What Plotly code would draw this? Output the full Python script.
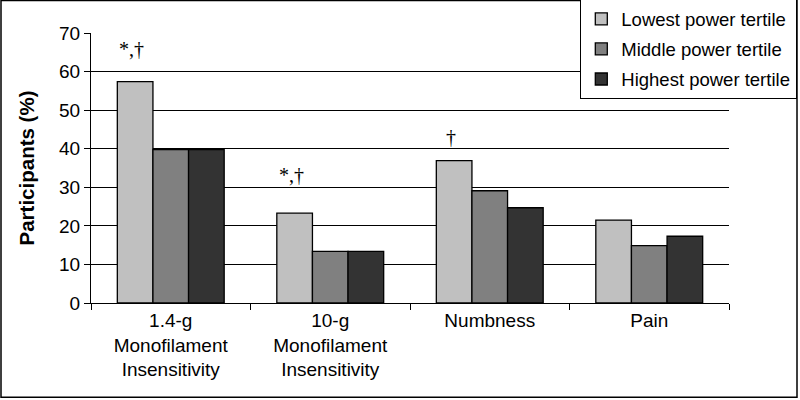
import plotly.graph_objects as go

categories = ["1.4-g<br>Monofilament<br>Insensitivity", "10-g<br>Monofilament<br>Insensitivity", "Numbness", "Pain"]
lowest = [57.4, 23.3, 36.9, 21.5]
middle = [39.8, 13.4, 29.1, 14.9]
highest = [39.8, 13.4, 24.7, 17.3]
series_names = ["Lowest power tertile", "Middle power tertile", "Highest power tertile"]
colors = ["#c0c0c0", "#808080", "#333333"]
marks = ["*,\u2020", "*,\u2020", "\u2020", ""]
mark_lift = [20, 25, 11, 0]

fig = go.Figure()
for i, (name, vals) in enumerate(zip(series_names, [lowest, middle, highest])):
    fig.add_trace(go.Bar(x=categories, y=vals, name=name, legendgroup=name,
                         marker=dict(color=colors[i], line=dict(color="black", width=1.3))))

# significance marks above the lowest-tertile bars
for c, v, m, lift in zip(categories, lowest, marks, mark_lift):
    if m:
        fig.add_annotation(x=c, y=v, text=m, showarrow=False, xshift=-39, yshift=lift,
                           yanchor="bottom", xanchor="center",
                           font=dict(family="Liberation Serif", size=20, color="black"))

L, T, W, H = 91, 33, 638, 270.5
fig.update_layout(
    width=800, height=400,
    margin=dict(l=L, r=800 - L - W, t=T, b=400 - T - H, autoexpand=False),
    paper_bgcolor="white", plot_bgcolor="white",
    barmode="group", bargap=0.33, bargroupgap=0,
    font=dict(family="Liberation Sans, Arial", size=18, color="black"),
    showlegend=True,
    legend=dict(x=(797 - L) / W, y=(T + H + 1) / H, xanchor="right", yanchor="top",
                bgcolor="white", bordercolor="black", borderwidth=1.3,
                font=dict(size=18.5), tracegroupgap=3, traceorder="grouped"),
)
fig.update_xaxes(showline=True, linecolor="black", linewidth=1.3, ticks="outside",
                 tickson="boundaries", ticklen=6, tickcolor="black", tickwidth=1.3,
                 tickfont=dict(size=19), showgrid=False)
fig.update_yaxes(range=[0, 70], dtick=10, showline=True, linecolor="black", linewidth=1.3,
                 ticks="outside", ticklen=6, tickcolor="black", tickwidth=1.3,
                 showgrid=True, gridcolor="black", gridwidth=1.3, zeroline=False,
                 tickfont=dict(size=19),
                 title=dict(text="<b>Participants (%)</b>", font=dict(size=20.5), standoff=18))

# outer frame of the figure
fig.add_shape(type="rect", xref="paper", yref="paper",
              x0=(1 - L) / W, x1=(797 - L) / W, y0=(T + H - 398) / H, y1=(T + H - 0.5) / H,
              line=dict(color="black", width=1.5), fillcolor="rgba(0,0,0,0)", layer="above")

fig.write_html("out.html", config={"displayModeBar": False},
               post_script="document.body.style.margin='0';")
